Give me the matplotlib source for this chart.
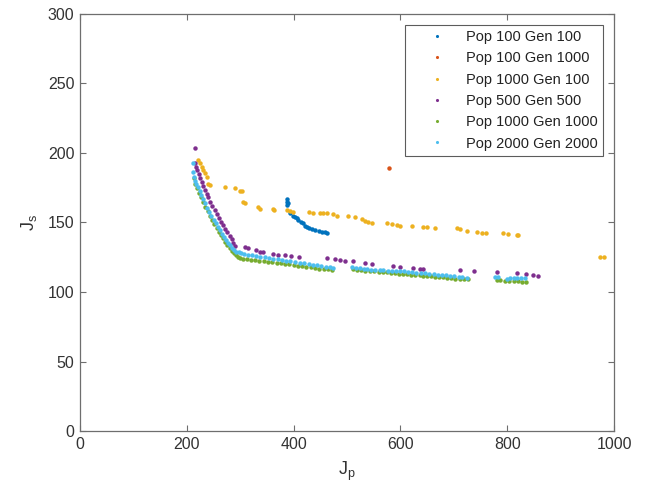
import matplotlib
matplotlib.use("Agg")
import matplotlib.pyplot as plt

# Pareto fronts (Jp, Js)
labels = ["Pop 100 Gen 100", "Pop 100 Gen 1000", "Pop 1000 Gen 100",
          "Pop 500 Gen 500", "Pop 1000 Gen 1000", "Pop 2000 Gen 2000"]

p100g100X = [388, 388, 390, 388, 393, 399, 403, 406, 409, 414, 418, 421, 425, 428,
             434, 440, 447, 453, 458, 462]
p100g100Y = [166.7, 164.5, 163.8, 162.6, 156.6, 154.7, 154, 153, 151.8, 150.5, 149.4,
             147.5, 146.5, 145.8, 145, 144.6, 143.9, 143.4, 143, 142.7]

p100g1000X = [578]
p100g1000Y = [189]

p1000g100X = [221.6, 224.7, 228, 231, 235, 237, 240, 243, 271, 290, 300, 303, 305, 309,
              333, 337, 361, 363, 388, 393, 399, 428, 436, 449, 455, 462, 474, 481, 502,
              515, 528, 534, 539, 547, 575, 584, 594, 599, 622, 642, 650, 665, 706, 712,
              725, 743, 753, 760, 792, 801, 818, 820, 974, 981]
p1000g100Y = [195, 192.6, 190, 187.8, 185.4, 183, 178, 177, 175.5, 175, 173, 172.7, 164.7,
              164, 161, 160, 160, 159, 159, 158.5, 157.8, 157.8, 157, 156.6, 156.6, 156.6,
              155.9, 154.7, 154.7, 154.2, 152.5, 151.3, 150.6, 149.9, 149.4, 149, 148.2,
              147.7, 147.5, 147, 146.5, 145.8, 145.8, 145, 144, 142.9, 142.6, 142.2, 142.2,
              141.5, 141, 140.8, 125.4, 125.4]

p500g500X = [215, 215, 217, 219, 222, 225, 228, 231, 234, 237, 240, 244, 248, 252, 256,
             260, 264, 268, 272, 276, 280, 284, 287, 290,
             309, 315, 330, 337, 343, 362, 371, 384, 396, 411, 462, 478, 487, 496, 512,
             534, 546, 586, 599, 624, 637, 642, 712, 737, 780, 819, 835, 848, 858]
p500g500Y = [203.4, 192.6, 190, 187.5, 185, 182, 179, 176, 173.4, 170.5, 168, 165, 162,
             159, 156, 153, 150.5, 148, 145.5, 143, 140.5, 138, 135.5, 133,
             132.6, 131.4, 130, 129, 128.5, 127.3, 126.6, 126.3, 125.9, 125.4, 124.2,
             123.7, 123, 122.5, 122, 121.2, 120.4, 118.9, 118.2, 117.5, 116.8, 116.3,
             115.8, 115.1, 114.2, 113.4, 112.7, 112.2, 111.7]

p1000g1000X = [213, 216, 219, 223, 227, 231, 235, 239, 243, 247, 251, 256, 260, 264, 268,
               272, 276, 280, 284, 288, 292, 296, 300,
               305, 312, 320, 328, 336, 344, 352, 360, 368, 376, 384, 392, 400, 408, 416,
               424, 432, 440, 448, 456, 464, 471,
               512, 518, 526, 534, 543, 551, 559, 567, 574, 582, 590, 598, 605, 612, 620,
               628, 636, 643, 649, 657, 665, 672, 680, 687, 695, 703, 711, 719, 727,
               780, 786, 796, 804, 812, 820, 828, 836]
p1000g1000Y = [182, 178, 175, 171.5, 168, 164.5, 161, 158, 155, 152, 149, 146, 143.5, 141,
               138.5, 136, 133.7, 131.5, 129.5, 127.8, 126.3, 125, 124.2,
               123.8, 123.5, 123.1, 122.7, 122.4, 122, 121.7, 121.3, 121, 120.6, 120.2,
               119.8, 119.4, 118.9, 118.5, 118.1, 117.7, 117.3, 116.9, 116.6, 116.3, 116,
               116.6, 115.8, 115.5, 115.2, 115, 114.8, 114.6, 114.3, 114.1, 113.8, 113.5,
               113.2, 112.9, 112.7, 112.4, 112.1, 111.9, 111.6, 111.5, 111.2, 111, 110.7,
               110.5, 110.3, 110, 109.7, 109.5, 109.2, 109,
               108.8, 108.6, 108.1, 108, 107.8, 107.7, 107.5, 107.4]

p2000g2000X = [212, 212, 214, 216, 218, 221.6, 224, 227, 230, 234, 238, 242, 246, 250, 254,
               258, 262, 266, 270, 274, 278, 281, 285, 289, 293,
               297, 302, 308, 315, 322, 330, 338, 346, 354, 362, 370, 378, 386, 394, 402,
               412, 420, 428, 436, 444, 452, 460, 468, 474,
               509, 516, 524, 531, 537, 545, 553, 561, 568, 576, 584, 592, 599, 607, 615,
               622, 630, 638, 646, 654, 662, 670, 678, 686, 693, 701, 709, 716, 724,
               777, 783, 799, 806, 812, 818, 826, 833]
p2000g2000Y = [192.6, 186.6, 183, 180, 178, 175.8, 173, 170, 167, 163.8, 160.5, 157.5,
               154.5, 151.8, 149.3, 147, 144.6, 142, 139.8, 137.5, 135.3, 133.8, 132,
               130.5, 129,
               128.5, 127.8, 127.4, 126.8, 126.3, 125.8, 125.4, 124.9, 124.4, 124, 123.5,
               123, 122.5, 122, 121.6, 121.1, 120.7, 120.3, 119.7, 119.2, 118.7, 118.3,
               117.8, 117.5,
               118, 117.5, 117.1, 116.7, 116.4, 116, 115.8, 115.8, 115.6, 115.3, 115.2,
               115.2, 115, 114.8, 114.5, 114.3, 114, 113.7, 113.4, 113.2, 112.9, 112.5,
               112.2, 111.9, 111.6, 111.2, 110.9, 110.6, 110.3,
               111, 110.5, 109.6, 110, 110, 109.8, 109.8, 109.8]

xTicks = [0, 200, 400, 600, 800, 1000]
yTicks = [0, 50, 100, 150, 200, 250, 300]

# matlab default colour order
colors = ["#0072BD", "#D95319", "#EDB120", "#7E2F8E", "#77AC30", "#4DBEEE"]

series = [(p100g100X, p100g100Y), (p100g1000X, p100g1000Y), (p1000g100X, p1000g100Y),
          (p500g500X, p500g500Y), (p1000g1000X, p1000g1000Y), (p2000g2000X, p2000g2000Y)]

plt.rcParams['font.family'] = ['Liberation Sans', 'DejaVu Sans']

fig = plt.figure(figsize=(6.46, 4.91), dpi=100, facecolor='white')
ax = fig.add_axes([80 / 646, 1 - 431 / 491, 534 / 646, 417 / 491])

for (xs, ys), col, lab in zip(series, colors, labels):
    ax.plot(xs, ys, linestyle='none', marker='o', markersize=3.2,
            markeredgewidth=0, color=col, label=lab)

ax.set_xlim(0, 1000)
ax.set_ylim(0, 300)
ax.set_xticks(xTicks)
ax.set_yticks(yTicks)

edge = '#6e6e6e'
for sp in ax.spines.values():
    sp.set_color(edge)
    sp.set_linewidth(0.9)
ax.tick_params(direction='in', top=True, right=True, length=4, width=0.8,
               color=edge, labelcolor='#333333', labelsize=11.5, pad=4)

ax.set_xlabel("J$_\\mathregular{p}$", fontsize=13, color='#333333', labelpad=6)
ax.set_ylabel("J$_\\mathregular{s}$", fontsize=13, color='#333333', labelpad=6)

# legend box roughly x 405..603, y 25..157 px
leg = ax.legend(loc='upper right', bbox_to_anchor=(0.979, 0.9736), borderaxespad=0,
                fontsize=10.5, markerscale=0.7, frameon=True, fancybox=False,
                borderpad=0.35, handlelength=3.7, handletextpad=0.1, labelspacing=0.5)
leg.get_frame().set_edgecolor('#333333')
leg.get_frame().set_linewidth(0.8)
for t in leg.get_texts():
    t.set_color('#222222')

plt.savefig("out.png", dpi=100)
